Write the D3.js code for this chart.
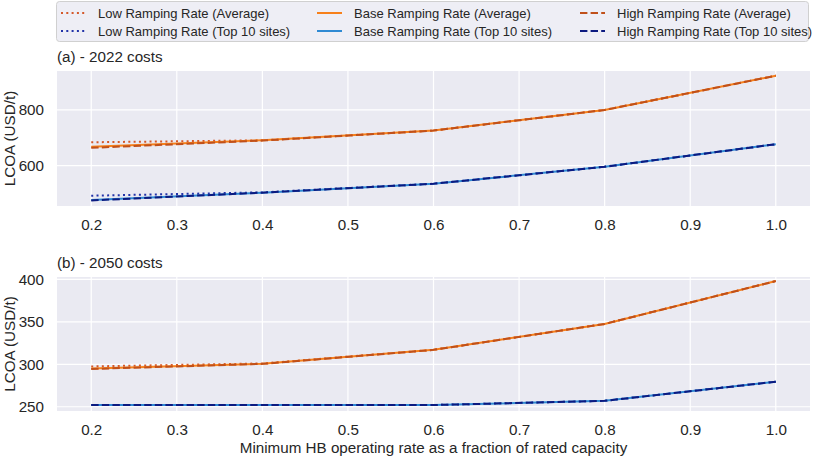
<!DOCTYPE html>
<html><head><meta charset="utf-8">
<script src="https://cdn.jsdelivr.net/npm/d3@7"></script>
<style>body{margin:0;background:#fff}svg{display:block;font-family:"Liberation Sans",Arial,sans-serif}</style>
</head><body><svg id="c" width="813" height="458"></svg>
<script>
const xValues = [0.2, 0.4, 0.6, 0.8, 1.0];
const xTicks = [0.2, 0.3, 0.4, 0.5, 0.6, 0.7, 0.8, 0.9, 1.0];
const seriesNames = ["Low Ramping Rate (Average)", "Low Ramping Rate (Top 10 sites)",
  "Base Ramping Rate (Average)", "Base Ramping Rate (Top 10 sites)",
  "High Ramping Rate (Average)", "High Ramping Rate (Top 10 sites)"];
// 2022 costs
const low2022Avg  = [684, 691, 726, 800, 923];
const low2022Top  = [492, 504, 535, 596, 677];
const base2022Avg = [668, 691, 726, 800, 923];
const base2022Top = [477, 503, 535, 596, 677];
const high2022Avg = [664, 690, 726, 800, 923];
const high2022Top = [475, 503, 535, 596, 677];
const yTicks2022 = [600, 800];
// 2050 costs
const low2050Avg  = [297.5, 301, 317, 347.5, 398];
const low2050Top  = [252, 252, 252, 257, 279.5];
const base2050Avg = [295, 300.5, 317, 347.5, 398];
const base2050Top = [252, 252, 252, 257, 279.5];
const high2050Avg = [294.5, 300.5, 317, 347.5, 398];
const high2050Top = [252, 252, 252, 257, 279.5];
const yTicks2050 = [250, 300, 350, 400];

const styles = [
  {color:"#d4582a", dash:"2,3.3", w:2},
  {color:"#2233a8", dash:"2,3.3", w:2},
  {color:"#f7801a", dash:null, w:2},
  {color:"#2f8ad3", dash:null, w:2},
  {color:"#c0501a", dash:"7.4,3.2", w:2},
  {color:"#0c1a80", dash:"7.4,3.2", w:2}
];

const svg = d3.select("#c");
const L = 57, R = 810;
const FS = 15.2;
const x = d3.scaleLinear().domain([0.16, 1.04]).range([L, R]);

function panel(top, bottom, ydom, yticks, title, data) {
  const y = d3.scaleLinear().domain(ydom).range([bottom, top]);
  const g = svg.append("g");
  g.append("rect").attr("x", L).attr("y", top).attr("width", R-L).attr("height", bottom-top).attr("fill", "#eaeaf2");
  g.selectAll(".vg").data(xTicks).join("line")
    .attr("x1", d=>x(d)).attr("x2", d=>x(d)).attr("y1", top).attr("y2", bottom)
    .attr("stroke", "#fff").attr("stroke-width", 1.2);
  g.selectAll(".hg").data(yticks).join("line")
    .attr("x1", L).attr("x2", R).attr("y1", d=>y(d)).attr("y2", d=>y(d))
    .attr("stroke", "#fff").attr("stroke-width", 1.2);
  const xa = g.append("g").attr("transform", `translate(0,${bottom})`)
    .call(d3.axisBottom(x).tickValues(xTicks).tickFormat(d3.format(".1f")).tickSize(0).tickPadding(13));
  xa.select(".domain").remove();
  xa.selectAll("text").attr("font-size", FS).attr("fill", "#262626").attr("font-family", "Liberation Sans, Arial, sans-serif");
  const ya = g.append("g").attr("transform", `translate(${L},0)`)
    .call(d3.axisLeft(y).tickValues(yticks).tickSize(0).tickPadding(13));
  ya.select(".domain").remove();
  ya.selectAll("text").attr("font-size", FS).attr("fill", "#262626").attr("font-family", "Liberation Sans, Arial, sans-serif");
  g.append("text").attr("x", L).attr("y", top - 9).attr("font-size", FS).attr("fill", "#262626").text(title);
  g.append("text").attr("transform", `translate(15,${(top+bottom)/2}) rotate(-90)`)
    .attr("text-anchor", "middle").attr("font-size", FS).attr("fill", "#262626").text("LCOA (USD/t)");
  const line = d3.line().x((d,i)=>x(xValues[i])).y(d=>y(d));
  data.forEach((s, i) => {
    const st = styles[i];
    g.append("path").datum(s).attr("d", line).attr("fill", "none")
      .attr("stroke", st.color).attr("stroke-width", st.w)
      .attr("stroke-dasharray", st.dash);
  });
}

panel(71, 206, [455, 940], yTicks2022, "(a) - 2022 costs",
  [low2022Avg, low2022Top, base2022Avg, base2022Top, high2022Avg, high2022Top]);
panel(277, 411, [245, 402.8], yTicks2050, "(b) - 2050 costs",
  [low2050Avg, low2050Top, base2050Avg, base2050Top, high2050Avg, high2050Top]);

svg.append("text").attr("x", (L+R)/2).attr("y", 453).attr("text-anchor", "middle")
  .attr("font-size", FS).attr("fill", "#262626").text("Minimum HB operating rate as a fraction of rated capacity");

// legend
const lg = svg.append("g");
lg.append("rect").attr("x", 56.5).attr("y", 1.5).attr("width", 752).attr("height", 40).attr("rx", 3)
  .attr("fill", "#eaeaf2").attr("fill-opacity", 0.8).attr("stroke", "#d0d0d0");
const colX = [61, 317, 580];
const rowY = [13, 31];
seriesNames.forEach((name, i) => {
  const c = Math.floor(i/2), r = i%2, st = styles[i];
  lg.append("line").attr("x1", colX[c]).attr("x2", colX[c]+25).attr("y1", rowY[r]).attr("y2", rowY[r])
    .attr("stroke", st.color).attr("stroke-width", st.w).attr("stroke-dasharray", st.dash);
  lg.append("text").attr("x", colX[c]+37).attr("y", rowY[r]).attr("dy", "0.35em")
    .attr("font-size", 13).attr("fill", "#262626").text(name);
});
</script></body></html>
